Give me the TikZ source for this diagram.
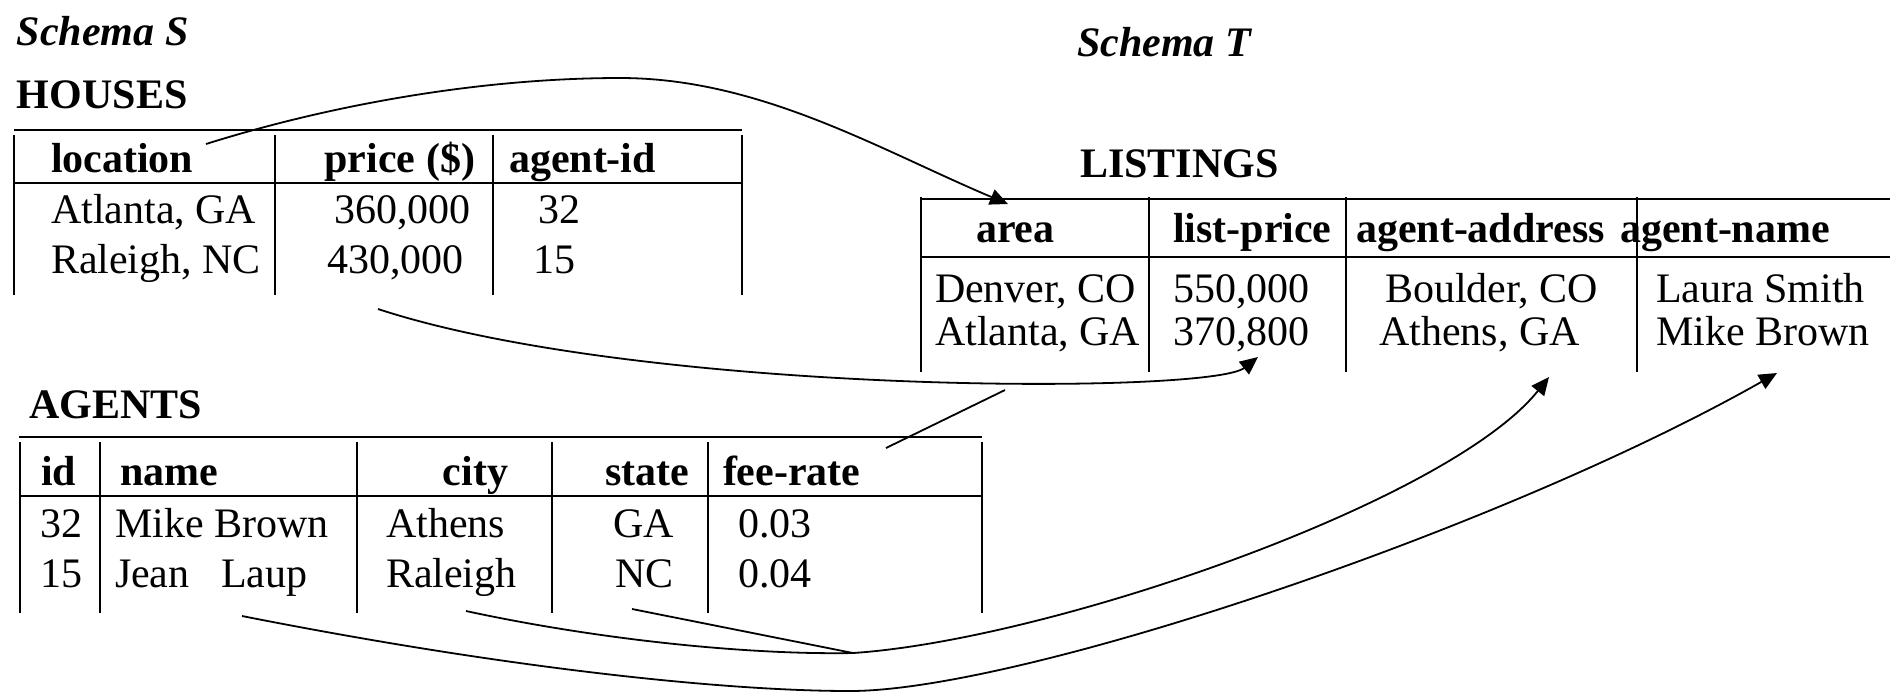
\documentclass[tikz,border=0pt]{standalone}
\usepackage{fontspec}
\setmainfont{Liberation Serif}
\usetikzlibrary{arrows.meta}
\newcommand\diagfs{\fontsize{21}{25}\selectfont}
\tikzset{
  tl/.style={line width=0.9pt},
  tx/.style={anchor=base west, inner sep=0pt, outer sep=0pt, font=\diagfs},
  txe/.style={anchor=base east, inner sep=0pt, outer sep=0pt, font=\diagfs},
  hd/.style={tx, font=\diagfs\bfseries},
  hde/.style={txe, font=\diagfs\bfseries},
  ttl/.style={tx, font=\diagfs\bfseries\itshape},
  conn/.style={line width=0.9pt},
  arr/.style={conn, -{Triangle[length=9pt,width=8pt]}}
}
\begin{document}
\begin{tikzpicture}[x=0.5pt, y=-0.5pt]
\useasboundingbox (0,0) rectangle (1890,693);

% titles
\node[ttl] (schS) at (17,45) {Schema S};
\node[ttl] (schT) at (1077,56) {Schema T};
\node[hd] (houses) at (17,108) {HOUSES};
\node[hd] (listings) at (1080,177) {LISTINGS};
\node[hd] (agents) at (29,418) {AGENTS};

% ---------- HOUSES table ----------
\draw[tl] (14,130) -- (742,130);
\draw[tl] (14,183) -- (742,183);
\foreach \x in {14,275,493,742} \draw[tl] (\x,135) -- (\x,295);
\node[hd] (hloc) at (51,172) {location};
\node[hde] (hprice) at (475,172) {price (\$)};
\node[hd] (hagid) at (509,172) {agent-id};
\node[tx] (h1a) at (51,223) {Atlanta, GA};
\node[tx] (h1b) at (334,223) {360,000};
\node[tx] (h1c) at (538,223) {32};
\node[tx] (h2a) at (51,273) {Raleigh, NC};
\node[tx] (h2b) at (327,273) {430,000};
\node[tx] (h2c) at (533,273) {15};

% ---------- LISTINGS table ----------
\draw[tl] (921,199) -- (1890,199);
\draw[tl] (921,257) -- (1890,257);
\foreach \x in {921,1149,1346,1637} \draw[tl] (\x,197) -- (\x,372);
\node[hd] (larea) at (976,242) {area};
\node[hd] (lprice) at (1173,242) {list-price};
\node[hd] (laddr) at (1356,242) {agent-address};
\node[hd] (lname) at (1620,242) {agent-name};
\node[tx] (l1a) at (935,302) {Denver, CO};
\node[tx] (l1b) at (1173,302) {550,000};
\node[tx] (l1c) at (1385,302) {Boulder, CO};
\node[tx] (l1d) at (1656,302) {Laura Smith};
\node[tx] (l2a) at (935,345) {Atlanta, GA};
\node[tx] (l2b) at (1173,345) {370,800};
\node[tx] (l2c) at (1379,345) {Athens, GA};
\node[tx] (l2d) at (1656,345) {Mike Brown};

% ---------- AGENTS table ----------
\draw[tl] (19,437) -- (982,437);
\draw[tl] (19,496) -- (982,496);
\foreach \x in {20,100,357,552,708,982} \draw[tl] (\x,442) -- (\x,613);
\node[hd] (aid) at (41,485) {id};
\node[hd] (aname) at (120,485) {name};
\node[hde] (acity) at (508,485) {city};
\node[hde] (astate) at (689,485) {state};
\node[hd] (afee) at (723,485) {fee-rate};
\node[tx] (a1a) at (40,537) {32};
\node[tx] (a1b) at (115,537) {Mike Brown};
\node[tx] (a1c) at (386,537) {Athens};
\node[tx] (a1d) at (613,537) {GA};
\node[tx] (a1e) at (738,537) {0.03};
\node[tx] (a2a) at (40,587) {15};
\node[tx] (a2b) at (115,587) {Jean\ \ \ Laup};
\node[tx] (a2c) at (386,587) {Raleigh};
\node[tx] (a2d) at (615,587) {NC};
\node[tx] (a2e) at (738,587) {0.04};

% ---------- connector end points ----------
\coordinate (locOut) at (206,144);
\coordinate (locTop) at (620,78);
\coordinate (areaIn) at (1008,204);
\coordinate (priceOut) at (378,309);
\coordinate (lpriceIn) at (1258,357);
\coordinate (feeOut) at (886,448);
\coordinate (feeJoin) at (1005,390);
\coordinate (cityOut) at (466,611);
\coordinate (cityJoin) at (853,653);
\coordinate (stateOut) at (632,609);
\coordinate (addrIn) at (1549,377);
\coordinate (nameOut) at (242,616);
\coordinate (nameLow) at (850,691);
\coordinate (nameIn) at (1777,373);

% ---------- connectors ----------
\draw[arr] (locOut) .. controls (330,105) and (480,78) .. (locTop)
  .. controls (760,78) and (880,150) .. (areaIn);
\draw[arr] (priceOut) .. controls (640,395) and (1210,395) .. (lpriceIn);
\draw[conn] (feeOut) -- (feeJoin);
\draw[arr] (cityOut) .. controls (600,640) and (750,655) .. (cityJoin)
  .. controls (1050,640) and (1449,502) .. (addrIn);
\draw[conn] (stateOut) -- (cityJoin);
\draw[arr] (nameOut) .. controls (500,667) and (720,691) .. (nameLow)
  .. controls (1020,691) and (1500,530) .. (nameIn);
\end{tikzpicture}
\end{document}
